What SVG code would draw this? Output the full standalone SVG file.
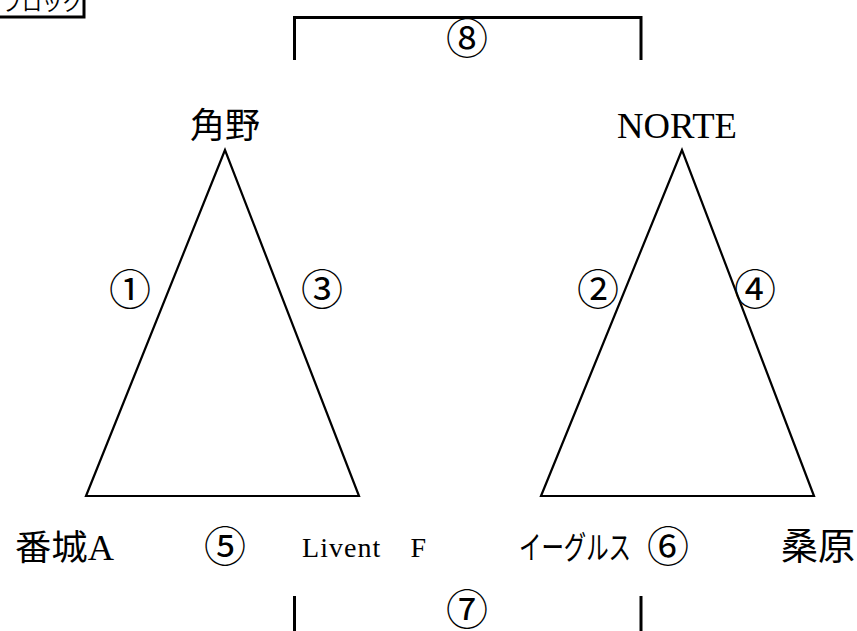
<svg xmlns="http://www.w3.org/2000/svg" width="857" height="631" viewBox="0 0 857 631">
<style>
text{font-family:"Liberation Serif","Noto Sans CJK JP",serif;fill:#000}
.lbl{font-size:35px}
.num{font-size:42px;text-anchor:middle}
.tri{fill:none;stroke:#000;stroke-width:2.2;stroke-linejoin:miter}
.br{fill:none;stroke:#000;stroke-width:3}
</style>
<rect width="857" height="631" fill="#fff"/>
<g id="legend">
<rect x="-5" y="-5" width="89" height="22" fill="#fff" stroke="#000" stroke-width="3"/>
<text x="2" y="11" style="font-size:20px">ブロック</text>
</g>
<g id="connectors">
<polygon class="tri" points="225,150 86,496 359,496"/>
<polygon class="tri" points="682,150 541,496 814,496"/>
<polyline class="br" points="294.5,60 294.5,17.5 641,17.5 641,60"/>
<line class="br" x1="294.5" y1="596" x2="294.5" y2="631"/>
<line class="br" x1="641" y1="596" x2="641" y2="631"/>
</g>
<g id="n-kadono"><text class="lbl" x="225" y="138" text-anchor="middle">角野</text></g>
<g id="n-norte"><text x="617" y="138" style="font-size:36px" textLength="120" lengthAdjust="spacingAndGlyphs">NORTE</text></g>
<g id="n-banjo"><text class="lbl" x="15" y="560" textLength="99" lengthAdjust="spacingAndGlyphs">番城A</text></g>
<g id="n-livent"><text x="302" y="557" style="font-size:28px" textLength="124" lengthAdjust="spacing">Livent　F</text></g>
<g id="n-eagles"><text x="519" y="559" style="font-size:32px" textLength="112" lengthAdjust="spacingAndGlyphs">イーグルス</text></g>
<g id="n-kuwabara"><text x="781" y="560" style="font-size:37px">桑原</text></g>
<g id="labels">
<text class="num" x="130" y="305">①</text>
<text class="num" x="598" y="305">②</text>
<text class="num" x="322" y="305">③</text>
<text class="num" x="755" y="305">④</text>
<text class="num" x="225" y="562">⑤</text>
<text class="num" x="668" y="562">⑥</text>
<text class="num" x="467" y="625">⑦</text>
<text class="num" x="467" y="54">⑧</text>
</g>
</svg>
